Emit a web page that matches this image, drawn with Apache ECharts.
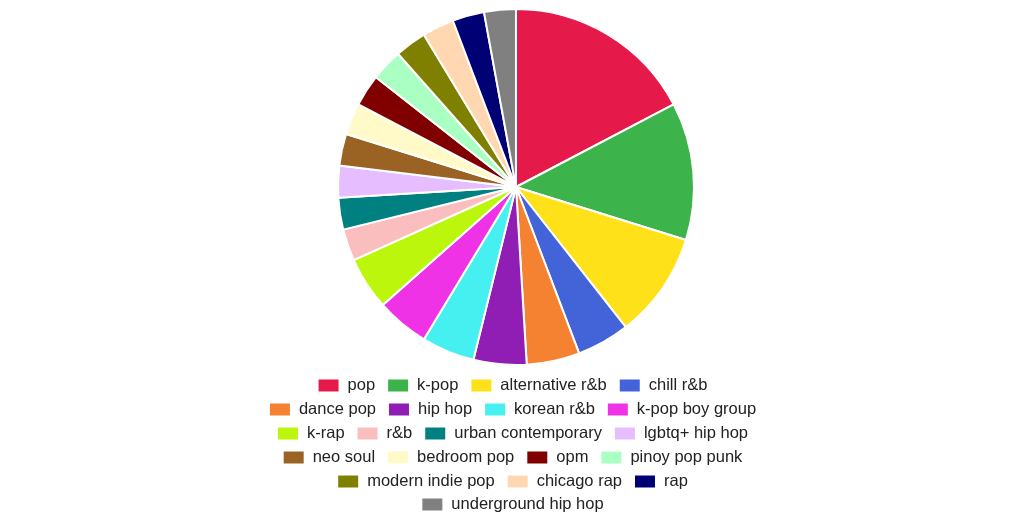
<!DOCTYPE html>
<html>
<head>
<meta charset="utf-8">
<script src="https://cdn.jsdelivr.net/npm/echarts@6/dist/echarts.min.js"></script>
<style>
html,body{margin:0;padding:0;background:#fff;}
#chart{width:1024px;height:515px;}
</style>
</head>
<body>
<div id="chart"></div>
<script>
const categories = ["pop","k-pop","alternative r&b","chill r&b","dance pop","hip hop","korean r&b","k-pop boy group","k-rap","r&b","urban contemporary","lgbtq+ hip hop","neo soul","bedroom pop","opm","pinoy pop punk","modern indie pop","chicago rap","rap","underground hip hop"];
const values = [18,13,10,5,5,5,5,5,5,3,3,3,3,3,3,3,3,3,3,3];
const colors = ["#e6194b","#3cb44b","#ffe119","#4363d8","#f58231","#911eb4","#46f0f0","#f032e6","#bcf60c","#fabebe","#008080","#e6beff","#9a6324","#fffac8","#800000","#aaffc3","#808000","#ffd8b1","#000075","#808080"];
const legendRows = [
  ["pop","k-pop","alternative r&b","chill r&b"],
  ["dance pop","hip hop","korean r&b","k-pop boy group"],
  ["k-rap","r&b","urban contemporary","lgbtq+ hip hop"],
  ["neo soul","bedroom pop","opm","pinoy pop punk"],
  ["modern indie pop","chicago rap","rap"],
  ["underground hip hop"]
];
const rowCenters = [384,408,432,456,480,503];

const chart = echarts.init(document.getElementById('chart'));
chart.setOption({
  animation:false,
  color: colors,
  legend: legendRows.map((row,i)=>({
    data: row,
    left: 'center',
    top: rowCenters[i]-7,
    padding: 0,
    orient: 'horizontal',
    icon: 'rect',
    itemWidth: 22,
    itemHeight: 14,
    itemGap: 11,
    selectedMode: false,
    textStyle: {fontFamily:'Liberation Sans, Arial, sans-serif', fontSize:16.5, color:'#222', padding:[0,0,0,3]}
  })),
  series: [{
    type:'pie',
    center:[516,187],
    radius:[0,178],
    startAngle:90,
    clockwise:true,
    label:{show:false},
    labelLine:{show:false},
    itemStyle:{borderColor:'#fff', borderWidth:2},
    emphasis:{disabled:true},
    data: categories.map((c,i)=>({name:c, value:values[i]}))
  }]
});
</script>
</body>
</html>
